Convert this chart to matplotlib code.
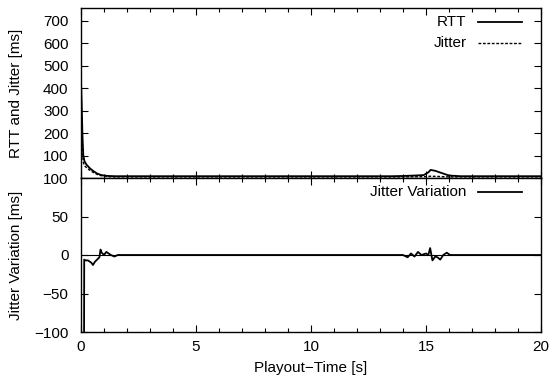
import numpy as np
import matplotlib.pyplot as plt
from matplotlib.lines import Line2D
from matplotlib.ticker import MultipleLocator

plt.rcParams['font.family'] = ['Liberation Sans', 'DejaVu Sans']
plt.rcParams['font.size'] = 11

# RTT / Jitter (ms) over playout time (s)
t_rtt = [0.0, 0.03, 0.06, 0.1, 0.15, 0.25, 0.4, 0.55, 0.7, 0.85, 1.0, 1.2, 1.5, 3.0, 6.0, 9.0, 12.0,
         13.5, 14.0, 14.5, 14.9, 15.1, 15.2, 15.4, 15.6, 15.8, 16.0, 16.5, 18.0, 20.0]
rtt = [435, 330, 200, 100, 75, 58, 42, 30, 20, 14, 11, 9, 8, 8, 8, 8, 8,
       8, 9, 11, 13, 25, 36, 32, 25, 18, 11, 8, 8, 8]
t_jit = [0.0, 0.03, 0.06, 0.1, 0.15, 0.25, 0.4, 0.55, 0.7, 0.85, 1.0, 1.2, 1.5, 3.0, 6.0, 9.0, 12.0,
         14.0, 15.0, 15.2, 15.5, 16.0, 17.0, 20.0]
jitter = [250, 200, 120, 70, 55, 45, 33, 24, 16, 11, 8, 6, 5, 5, 5, 5, 5,
          5, 6, 8, 7, 5, 5, 5]

# Jitter variation (ms)
t_var = [0.0, 0.13, 0.14, 0.2, 0.3, 0.45, 0.52, 0.6, 0.7, 0.8, 0.85, 0.9, 1.0, 1.1, 1.2, 1.3, 1.45, 1.6,
         2.0, 5.0, 10.0, 14.0, 14.2, 14.35, 14.5, 14.65, 14.8, 15.0, 15.1, 15.18, 15.28, 15.4, 15.5,
         15.62, 15.75, 15.9, 16.05, 16.2, 17.0, 20.0]
jvar = [-140, -140, -6, -7, -7, -10, -13, -9, -6, -3, 7, 3, 0, 4, 2, 0, -2, 0,
        0, 0, 0, 0, -3, 2, -2, 4, 0, 2, 0, 9, -7, -2, -3, -6, 0, 3, 0, 0, 0, 0]

fig = plt.figure(figsize=(5.51, 3.85), dpi=100)
ax1 = fig.add_axes([81 / 551, 1 - 178 / 385, 460 / 551, 170 / 385])
ax2 = fig.add_axes([81 / 551, 1 - 332 / 385, 460 / 551, 154 / 385], sharex=ax1)

ax1.plot(t_rtt, rtt, color='black', lw=1.3)
ax1.plot(t_jit, jitter, color='black', lw=1.0, ls=(0, (2, 1.2)))
ax1.set_xlim(0, 20)
ax1.set_ylim(0, 757)
ax1.set_yticks([100, 200, 300, 400, 500, 600, 700])
ax1.tick_params(labelbottom=False)
ax1.set_ylabel('RTT and Jitter [ms]')

ax2.plot(t_var, jvar, color='black', lw=1.3)
ax2.axhline(0, color='black', lw=0.8)
ax2.set_ylim(-100, 100)
ax2.set_yticks([-100, -50, 0, 50, 100])
ax2.set_yticklabels(['\u2212100', '\u221250', '0', '50', '100'])
ax2.set_xticks([0, 5, 10, 15, 20])
ax2.set_xlabel('Playout\u2212Time [s]', labelpad=5)
ax2.set_ylabel('Jitter Variation [ms]')

for ax in (ax1, ax2):
    ax.xaxis.set_minor_locator(MultipleLocator(1))
    ax.tick_params(which='both', direction='in', top=True, right=True)
    ax.tick_params(which='major', length=5, width=0.8)
    ax.tick_params(which='minor', length=3, width=0.8)
    ax.tick_params(axis='y', which='major', pad=9)
    ax.tick_params(axis='x', which='major', pad=6)
    for s in ax.spines.values():
        s.set_linewidth(1.0)

ax1.yaxis.set_label_coords(-0.125, 0.5)
ax2.yaxis.set_label_coords(-0.125, 0.5)

# legends drawn gnuplot-style: right-aligned text, sample to the right
def key(ax, y, label, ls, lw):
    ax.text(0.838, y, label, transform=ax.transAxes, ha='right', va='center')
    ax.add_line(Line2D([0.863, 0.959], [y, y], transform=ax.transAxes,
                       color='black', lw=lw, ls=ls))

key(ax1, 0.919, 'RTT', '-', 1.3)
key(ax1, 0.794, 'Jitter', (0, (2, 1.2)), 1.0)
key(ax2, 0.909, 'Jitter Variation', '-', 1.3)

fig.savefig('out.png', dpi=100)
